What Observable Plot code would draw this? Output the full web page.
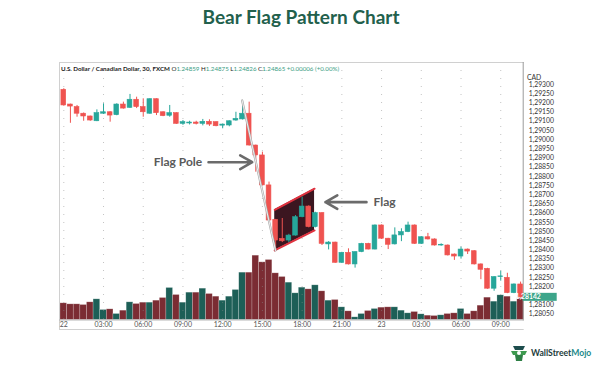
<!DOCTYPE html>
<html><head><meta charset="utf-8">
<script src="https://cdn.jsdelivr.net/npm/d3@7"></script>
<script src="https://cdn.jsdelivr.net/npm/@observablehq/plot@0.6"></script>
<style>
html,body{margin:0;padding:0;background:#fff;}
#wrap{position:relative;width:602px;height:368px;overflow:hidden;font-family:Lato,"Liberation Sans",sans-serif;}
#wrap svg.plotsvg{position:absolute;left:0;top:0;}
#title{position:absolute;left:0;top:5px;width:602px;text-align:center;font-weight:700;font-size:19px;line-height:23px;color:#22604c;}
#hdr{position:absolute;left:61px;top:65.2px;font-size:6.2px;line-height:7px;white-space:nowrap;color:#222;}
#hdr .v{color:#3a9e83;font-weight:400;}
#hdr b{font-weight:700;}
#logo{position:absolute;left:510px;top:343px;height:20px;display:flex;align-items:center;}
#logo span{font-weight:700;font-size:8.6px;color:#1d3b3b;margin-left:3px;}
#logo span i{font-style:normal;color:#1d8a8a;}
</style></head>
<body>
<div id="wrap">
  <div id="title">Bear Flag Pattern Chart</div>
  <div id="chart"></div>
  <div id="hdr"><b>U.S. Dollar / Canadian Dollar, 30, FXCM</b> O<span class="v">1.24859</span> H<span class="v">1.24875</span> L<span class="v">1.24826</span> C<span class="v">1.24865</span> <span class="v">+0.00006 (+0.00%)</span></div>
  <div id="logo">
    <svg width="18" height="20" viewBox="0 0 18 20">
      <path d="M3 3 L15 3 L13 7 L5 7 Z" fill="#1d4d4d"/>
      <path d="M1 8 L17 8 L15 12 L3 12 Z" fill="#3e9a4f"/>
      <path d="M5 12 L13 12 L12 18 L6 18 Z" fill="#2e7f45"/>
      <circle cx="9" cy="10" r="2" fill="#ffffff"/>
    </svg>
    <span>WallStreet<i>Mojo</i></span>
  </div>
</div>
<script>
// ---- data (30-minute candles, USD/CAD) ----
const candleOpen = [
1.29271,1.29191,1.29177,1.29141,1.29126,1.29100,1.29141,1.29149,1.29133,1.29191,
1.29173,1.29217,1.29177,1.29141,1.29220,1.29149,1.29130,1.29144,1.29086,1.29088,
1.29093,1.29086,1.29097,1.29095,1.29076,1.29077,1.29104,1.29110,1.29141,1.28968,
1.28914,1.28751,1.28564,1.28460,1.28451,1.28478,1.28578,1.28636,1.28524,1.28600,
1.28430,1.28440,1.28330,1.28384,1.28321,1.28388,1.28433,1.28402,1.28533,1.28461,
1.28430,1.28479,1.28497,1.28533,1.28433,1.28469,1.28457,1.28424,1.28424,1.28375,
1.28364,1.28402,1.28393,1.28321,1.28297,1.28189,1.28252,1.28248,1.28165,1.28212];
const candleClose = [
1.29186,1.29180,1.29141,1.29126,1.29104,1.29144,1.29149,1.29131,1.29191,1.29169,
1.29217,1.29177,1.29149,1.29220,1.29144,1.29128,1.29144,1.29086,1.29095,1.29093,
1.29086,1.29097,1.29082,1.29073,1.29082,1.29100,1.29113,1.29141,1.28968,1.28914,
1.28751,1.28560,1.28451,1.28447,1.28478,1.28578,1.28636,1.28524,1.28600,1.28433,
1.28440,1.28330,1.28384,1.28321,1.28388,1.28433,1.28402,1.28533,1.28461,1.28428,
1.28479,1.28497,1.28533,1.28433,1.28469,1.28457,1.28424,1.28428,1.28370,1.28364,
1.28402,1.28391,1.28321,1.28292,1.28189,1.28252,1.28256,1.28165,1.28212,1.28142];
const candleHigh = [
1.29277,1.29193,1.29186,1.29145,1.29128,1.29162,1.29195,1.29152,1.29195,1.29204,
1.29246,1.29231,1.29222,1.29222,1.29222,1.29151,1.29186,1.29146,1.29104,1.29100,
1.29100,1.29110,1.29108,1.29097,1.29085,1.29102,1.29149,1.29209,1.29204,1.28970,
1.28932,1.28769,1.28566,1.28571,1.28485,1.28587,1.28687,1.28640,1.28605,1.28603,
1.28445,1.28442,1.28387,1.28406,1.28390,1.28436,1.28436,1.28536,1.28536,1.28463,
1.28520,1.28515,1.28551,1.28536,1.28472,1.28490,1.28460,1.28433,1.28427,1.28378,
1.28415,1.28405,1.28396,1.28324,1.28300,1.28255,1.28284,1.28273,1.28215,1.28225];
const candleLow = [
1.29182,1.29089,1.29122,1.29100,1.29100,1.29098,1.29137,1.29095,1.29130,1.29166,
1.29170,1.29169,1.29122,1.29138,1.29131,1.29125,1.29122,1.29083,1.29078,1.29080,
1.29080,1.29075,1.29072,1.29070,1.29059,1.29070,1.29100,1.29107,1.28965,1.28823,
1.28748,1.28556,1.28397,1.28440,1.28440,1.28475,1.28575,1.28520,1.28520,1.28424,
1.28400,1.28327,1.28327,1.28318,1.28301,1.28385,1.28400,1.28400,1.28458,1.28402,
1.28427,1.28445,1.28494,1.28430,1.28430,1.28454,1.28421,1.28420,1.28367,1.28343,
1.28350,1.28375,1.28318,1.28238,1.28186,1.28175,1.28230,1.28162,1.28162,1.28139];
const volume = [
50,47,47,45,53,62,30,32,18,28,
53,48,52,52,58,66,96,75,52,82,
82,94,78,70,58,70,90,142,142,193,
173,180,140,129,112,80,97,92,104,86,
58,60,38,26,8,18,27,33,37,38,
38,28,20,24,17,13,12,14,18,20,
33,18,26,43,67,55,74,70,55,65];

const priceTicks = [1.28050,1.28100,1.28150,1.28200,1.28250,1.28300,1.28350,1.28400,1.28450,1.28500,
1.28550,1.28600,1.28650,1.28700,1.28750,1.28800,1.28850,1.28900,1.28950,1.29000,
1.29050,1.29100,1.29150,1.29200,1.29250,1.29300];
const xTicks = [0,3,6,9,12,15,18,21,24,27,30,33];           // hours since 22 00:00
const xLabels = ["22","03:00","06:00","09:00","12:00","15:00","18:00","21:00","23","03:00","06:00","09:00"];

// annotations (hours, price)
const flagT = [15.93, 18.94];
const flagLow = [1.28397, 1.28506];
const flagHigh = [1.28618, 1.28733];
const poleT = [13.47, 15.99];
const polePrice = [1.29213, 1.28397];
const poleArrowT = [10.93, 14.23];
const poleArrowPrice = 1.28877;
const flagArrowT = [22.86, 19.76];
const flagArrowPrice = 1.28660;
const poleLabel = {text: "Flag Pole", t: 10.45, price: 1.28877};
const flagLabel = {text: "Flag", t: 23.39, price: 1.28660};

// ---- colours ----
const upCol = "#26a69a", downCol = "#ef5350";
const volUp = "#1d5f57", volDown = "#7b2c33";

const n = candleOpen.length;
const idx = d3.range(n);
const T = idx.map(i => i * 0.5);   // 30-minute bars
const isUp = i => candleClose[i] >= candleOpen[i];
const fmt = d => d.toFixed(5).replace(".", ",");
const lastClose = candleClose[n - 1];
// the highlighted last-price tag covers the tick label right behind it
const axisTicks = priceTicks.filter(d => Math.abs(d - lastClose) > 0.00025);

const common = {
  width: 602, height: 368, marginLeft: 59, marginRight: 79.3, marginTop: 62,
  x: {domain: [0, 34.5], range: [63.3, 520.1]},
  color: {type: "identity"},
  style: {background: "transparent", fontFamily: "Lato, 'Liberation Sans', sans-serif", overflow: "visible"}
};

const volPlot = Plot.plot({
  ...common,
  marginBottom: 39,
  x: {...common.x, axis: null},
  y: {domain: [0, 200], range: [319.5, 319.5 - 200 / 3], axis: null},
  marks: [
    Plot.rect(idx, {x1: i => T[i] - 0.25, x2: i => T[i] + 0.25, y1: () => 0, y2: i => volume[i],
      fill: i => isUp(i) ? volUp : volDown, stroke: "#ffffff", strokeOpacity: 0.35, strokeWidth: 0.6}),
    Plot.frame({anchor: "left", stroke: "#d0d0d0"}),
    Plot.frame({anchor: "bottom", stroke: "#d0d0d0"})
  ]
});

function lastPriceBox(index, scales, values, dimensions) {
  const y = scales.y(lastClose);
  const x0 = dimensions.width - dimensions.marginRight;
  const g = d3.create("svg:g");
  g.append("rect").attr("x", x0).attr("y", y - 4).attr("width", 34).attr("height", 8).attr("fill", "#3da58a");
  g.append("text").attr("x", x0 + 5.5).attr("y", y).attr("dy", "0.35em").attr("fill", "#fff")
    .attr("font-size", 6.8).attr("font-weight", "bold").text(fmt(lastClose));
  return g.node();
}

const pricePlot = Plot.plot({
  ...common,
  marginBottom: 48.5,
  y: {domain: [1.2805, 1.293], range: [313.75, 84]},
  marks: [
    Plot.gridX(xTicks, {stroke: "#8a8a8a", strokeOpacity: 0.5, strokeDasharray: "1,7"}),
    Plot.frame({anchor: "top", stroke: "#d0d0d0"}),
    Plot.frame({anchor: "right", stroke: "#9a9a9a"}),
    Plot.frame({anchor: "bottom", stroke: "#b8b8b8"}),
    // flag body
    Plot.areaY([0, 1], {x: i => flagT[i], y1: i => flagLow[i], y2: i => flagHigh[i], fill: "#3b1620", curve: "linear"}),
    Plot.line([0, 1], {x: i => flagT[i], y: i => flagHigh[i], stroke: "#e0323f", strokeWidth: 2}),
    Plot.line([0, 1], {x: i => flagT[i], y: i => flagLow[i], stroke: "#e0323f", strokeWidth: 2}),
    // candles
    Plot.ruleX(idx, {x: i => T[i], y1: i => candleLow[i], y2: i => candleHigh[i],
      stroke: i => isUp(i) ? upCol : downCol, strokeWidth: 1}),
    Plot.rect(idx, {x1: i => T[i] - 0.18, x2: i => T[i] + 0.18, y1: i => candleOpen[i], y2: i => candleClose[i],
      fill: i => isUp(i) ? upCol : downCol, stroke: i => isUp(i) ? upCol : downCol, strokeWidth: 0.6}),
    // flag pole line
    Plot.line([0, 1], {x: i => poleT[i], y: i => polePrice[i], stroke: "#a8a8a8", strokeWidth: 2.2}),
    Plot.line([0, 1], {x: i => poleT[i], y: i => polePrice[i], stroke: "#ffffff", strokeWidth: 0.8}),
    // arrows
    Plot.arrow([0], {x1: () => poleArrowT[0], x2: () => poleArrowT[1], y1: () => poleArrowPrice, y2: () => poleArrowPrice,
      stroke: "#6b6b6b", strokeWidth: 2.6, headLength: 8, headAngle: 60}),
    Plot.arrow([0], {x1: () => flagArrowT[0], x2: () => flagArrowT[1], y1: () => flagArrowPrice, y2: () => flagArrowPrice,
      stroke: "#6b6b6b", strokeWidth: 2.6, headLength: 8, headAngle: 60}),
    Plot.text([poleLabel], {x: "t", y: "price", text: "text", textAnchor: "end",
      fontSize: 12, fontWeight: "bold", fill: "#5a5a5a"}),
    Plot.text([flagLabel], {x: "t", y: "price", text: "text", textAnchor: "start",
      fontSize: 12, fontWeight: "bold", fill: "#5a5a5a"}),
    // axes
    Plot.axisY(axisTicks, {anchor: "right", tickSize: 0, tickPadding: 5.5, tickFormat: fmt, fontSize: 6.8, fill: "#333", label: null}),
    Plot.text(["CAD"], {frameAnchor: "top-right", dx: 18, dy: 12.5, fontSize: 6.8, fill: "#333"}),
    Plot.axisX(xTicks, {anchor: "bottom", tickSize: 0, tickPadding: 2.5, tickFormat: d => xLabels[xTicks.indexOf(d)],
      fontSize: 7, fill: "#555", label: null}),
    lastPriceBox
  ]
});

for (const p of [volPlot, pricePlot]) {
  p.classList.add("plotsvg");
  document.getElementById("chart").appendChild(p);
}
</script>
</body></html>
